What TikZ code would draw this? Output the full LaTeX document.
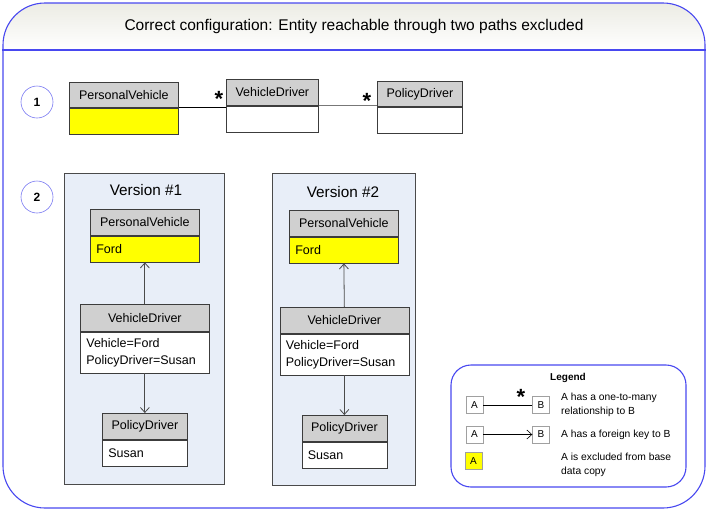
\documentclass[tikz,border=0pt]{standalone}
\usepackage{fontspec}
\setmainfont{Liberation Sans}
\usetikzlibrary{arrows.meta,positioning}
\definecolor{frameblue}{HTML}{4848F0}
\definecolor{ringblue}{HTML}{7A7AF2}
\definecolor{titletop}{HTML}{ECECE4}
\definecolor{hdrgray}{HTML}{D0D0D0}
\definecolor{boxline}{HTML}{3C3C3C}
\definecolor{exclyellow}{HTML}{FFFF00}
\definecolor{panelfill}{HTML}{E8EEF8}
\definecolor{panelline}{HTML}{4A4A4A}
\definecolor{linkgray}{HTML}{777777}
\definecolor{legline}{HTML}{A0A0A0}
\tikzset{
  frame/.style={draw=frameblue, line width=1.1pt, rounded corners=42pt},
  numring/.style={circle, draw=ringblue, line width=.6pt, minimum size=32pt, inner sep=0pt,
    font=\fontsize{12}{14}\selectfont\bfseries},
  hdr/.style={draw=boxline, fill=hdrgray, line width=.7pt, inner sep=0pt, anchor=north west,
    font=\fontsize{12.5}{15}\selectfont},
  fld/.style={draw=boxline, fill=white, line width=.7pt, inner xsep=6pt, inner ysep=0pt,
    align=left, anchor=north, font=\fontsize{12.5}{16.5}\selectfont},
  excl/.style={fld, fill=exclyellow},
  panel/.style={draw=panelline, fill=panelfill, line width=.8pt, anchor=north west},
  ptitle/.style={font=\fontsize{15.3}{18}\selectfont},
  many/.style={font=\fontsize{22}{22}\selectfont\bfseries, inner sep=0pt},
  fk/.style={-{Straight Barb[length=5pt,width=9pt]}, draw=panelline, line width=.8pt},
  legbox/.style={draw=legline, fill=white, minimum width=17pt, minimum height=17pt, inner sep=0pt,
    font=\fontsize{10}{12}\selectfont},
  legtext/.style={anchor=west, align=left, inner sep=0pt, font=\fontsize{10.3}{13.5}\selectfont}
}
\begin{document}
\begin{tikzpicture}[x=1pt,y=-1pt]
  \useasboundingbox (0,0) rectangle (709,512);
  \begin{scope}
    \clip[rounded corners=42pt] (3,3) rectangle (705,508);
    \shade[top color=titletop, bottom color=white] (3,3) rectangle (705,50);
  \end{scope}
  \node[frame, minimum width=702pt, minimum height=505pt, inner sep=0pt] (outer) at (354,255.5) {};
  \node[font=\fontsize{15.5}{18}\selectfont] (title) at (354,26)
    {Correct configuration: Entity reachable through two paths excluded};
  \coordinate (band) at (0,50);
  \draw[draw=frameblue, line width=1.1pt] (outer.west |- band) -- (outer.east |- band);

  % step 1: the model
  \node[numring] (num1) at (37,102) {1};
  \node[hdr, minimum width=109pt, minimum height=25pt] (pv) at (69,82) {PersonalVehicle};
  \node[excl, text width=97pt, minimum height=26pt] (pvb) at (pv.south) {};
  \node[hdr, minimum width=92pt, minimum height=26pt] (vd) at (226,79) {VehicleDriver};
  \node[fld, text width=80pt, minimum height=26pt] (vdb) at (vd.south) {};
  \node[hdr, minimum width=85pt, minimum height=25pt] (pd) at (377,81) {PolicyDriver};
  \node[fld, text width=73pt, minimum height=26pt] (pdb) at (pd.south) {};
  \draw[line width=.8pt] (pv.south east) -- (pv.south east -| vd.west);
  \draw[draw=linkgray, line width=1pt] (vd.south east) -- (vd.south east -| pd.west);
  \node[many] (star1) at (219,99) {*};
  \node[many] (star2) at (367,101) {*};

  % step 2: two versions
  \node[numring] (num2) at (37,197) {2};
  \node[panel, minimum width=160pt, minimum height=311pt] (ver1) at (64,173) {};
  \node[ptitle] (ver1t) at (146,190) {Version \#1};
  \node[hdr, minimum width=109pt, minimum height=26pt] (pv1) at (90,209) {PersonalVehicle};
  \node[excl, text width=97pt, minimum height=26pt] (pv1b) at (pv1.south) {Ford};
  \node[hdr, minimum width=129pt, minimum height=27pt] (vd1) at (80,304) {VehicleDriver};
  \node[fld, text width=117pt, minimum height=41pt] (vd1b) at (vd1.south)
    {Vehicle=Ford\\PolicyDriver=Susan};
  \node[hdr, minimum width=85pt, minimum height=26pt] (pd1) at (102,413) {PolicyDriver};
  \node[fld, text width=73pt, minimum height=26pt] (pd1b) at (pd1.south) {Susan};
  \draw[fk] (vd1.north) -- (pv1b.south);
  \draw[fk] (vd1b.south) -- (pd1.north);

  \node[panel, minimum width=143pt, minimum height=312pt] (ver2) at (272,173) {};
  \node[ptitle] (ver2t) at (343,192) {Version \#2};
  \node[hdr, minimum width=109pt, minimum height=26pt] (pv2) at (289,210) {PersonalVehicle};
  \node[excl, text width=97pt, minimum height=26pt] (pv2b) at (pv2.south) {Ford};
  \node[hdr, minimum width=129pt, minimum height=26pt] (vd2) at (279.5,307) {VehicleDriver};
  \node[fld, text width=117pt, minimum height=41pt] (vd2b) at (vd2.south)
    {Vehicle=Ford\\PolicyDriver=Susan};
  \node[hdr, minimum width=85pt, minimum height=26pt] (pd2) at (301.5,415) {PolicyDriver};
  \node[fld, text width=73pt, minimum height=26pt] (pd2b) at (pd2.south) {Susan};
  \draw[fk] (vd2.north) -- (pv2b.south);
  \draw[fk] (vd2b.south) -- (pd2.north);

  % legend
  \node[frame, rounded corners=20pt, minimum width=235pt, minimum height=122pt] (legend) at (568.5,426) {};
  \node[font=\fontsize{10}{12}\selectfont\bfseries] (legt) at (568,378) {Legend};
  \node[legbox] (la1) at (474.5,405) {A};
  \node[legbox] (lb1) at (541,405) {B};
  \draw[line width=.6pt] (la1.east) -- (lb1.west);
  \node[many] (star3) at (521,397) {*};
  \node[legtext] (lt1) at (561,405) {A has a one-to-many\\relationship to B};
  \node[legbox] (la2) at (474.5,434.5) {A};
  \node[legbox] (lb2) at (541,434.5) {B};
  \draw[fk, draw=black, line width=.6pt] (la2.east) -- (lb2.west);
  \node[legtext] (lt2) at (561,434.5) {A has a foreign key to B};
  \node[legbox, fill=exclyellow] (la3) at (473.5,461) {A};
  \node[legtext] (lt3) at (561,465) {A is excluded from base\\data copy};
\end{tikzpicture}
\end{document}
